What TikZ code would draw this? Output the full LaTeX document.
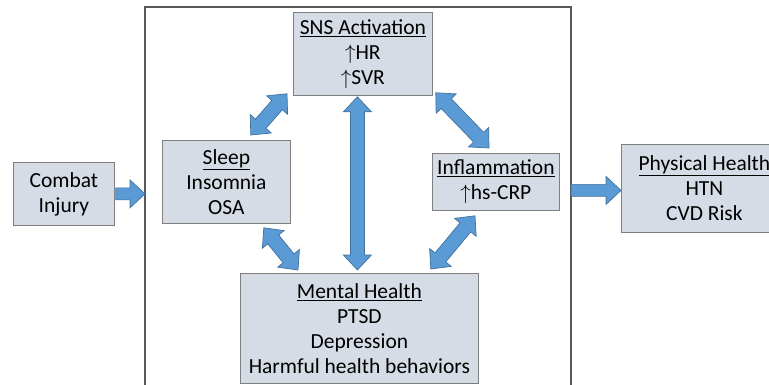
\documentclass[tikz,border=0pt]{standalone}
\usepackage{fontspec}
\setmainfont{Carlito}
\usetikzlibrary{calc}

\definecolor{boxfill}{HTML}{D6DCE5}
\definecolor{boxline}{HTML}{7F7F7F}
\definecolor{arrfill}{HTML}{5B9BD5}
\definecolor{arrline}{HTML}{41719C}
\definecolor{frameline}{HTML}{595959}

% block arrow with two heads, from tip #1 to tip #2
\newcommand{\dblarrow}[2]{%
  \coordinate (p1) at ($(#1)!15pt!(#2)$);
  \coordinate (p2) at ($(#2)!15pt!(#1)$);
  \draw[blockarrow] (#1) -- ($(p1)!14pt!-90:(#2)$) -- ($(p1)!7pt!-90:(#2)$)
    -- ($(p2)!7pt!90:(#1)$) -- ($(p2)!14pt!90:(#1)$) -- (#2)
    -- ($(p2)!14pt!-90:(#1)$) -- ($(p2)!7pt!-90:(#1)$)
    -- ($(p1)!7pt!90:(#2)$) -- ($(p1)!14pt!90:(#2)$) -- cycle;}

% block arrow with one head at #2
\newcommand{\sglarrow}[2]{%
  \coordinate (p2) at ($(#2)!15pt!(#1)$);
  \draw[blockarrow] ($(#1)!6pt!-90:(#2)$) -- ($(p2)!6pt!90:(#1)$)
    -- ($(p2)!14pt!90:(#1)$) -- (#2) -- ($(p2)!14pt!-90:(#1)$)
    -- ($(p2)!6pt!-90:(#1)$) -- ($(#1)!6pt!90:(#2)$) -- cycle;}

\begin{document}
\begin{tikzpicture}[x=1pt, y=-1pt,
    box/.style={draw=boxline, fill=boxfill, line width=0.8pt, anchor=north west,
                align=center, inner sep=0pt, font=\fontsize{21.5}{25}\selectfont},
    blockarrow/.style={draw=arrline, fill=arrfill, line width=0.7pt}]
    \useasboundingbox (0,0) rectangle (769,385);
    \clip (0,0) rectangle (769,385);

    % outer frame, open at the bottom
    \coordinate (fl) at (145,7);
    \coordinate (fr) at (571,7);
    \draw[frameline, line width=1.2pt] (145,400) -- (fl) -- (fr) -- (571,400);

    % the boxes
    \node[box, minimum width=101pt, minimum height=63pt] (combat) at (13,162) {Combat\\Injury};
    \node[box, minimum width=139pt, minimum height=83pt] (sns) at (293,12)
        {\underline{SNS Activation}\\$\uparrow$HR\\$\uparrow$SVR};
    \node[box, minimum width=128pt, minimum height=83pt] (sleep) at (162,140)
        {\underline{Sleep}\\Insomnia\\OSA};
    \node[box, minimum width=127pt, minimum height=57pt] (infl) at (432,153)
        {\underline{Inflammation}\\$\uparrow$hs-CRP};
    \node[box, minimum width=238pt, minimum height=110pt] (mental) at (240,273)
        {\underline{Mental Health}\\PTSD\\Depression\\Harmful health behaviors};
    \node[box, minimum width=166pt, minimum height=88pt] (phys) at (621,144)
        {\underline{Physical Health}\\HTN\\CVD Risk};

    % arrow ends
    \coordinate (a1) at ([shift={(-40,-5)}]sleep.north east);
    \coordinate (a2) at ([shift={(-6,-2)}]sns.south west);
    \coordinate (b1) at ([shift={(3,-3)}]sns.south east);
    \coordinate (b2) at ([shift={(57,-5)}]infl.north west);
    \coordinate (c1) at ([shift={(-5.5,1)}]sns.south);
    \coordinate (c2) at ([shift={(-2,-3)}]mental.north);
    \coordinate (d1) at ([shift={(-27,4)}]sleep.south east);
    \coordinate (d2) at ([shift={(58,-3)}]mental.north west);
    \coordinate (e1) at ([shift={(43,5)}]infl.south west);
    \coordinate (e2) at ([shift={(-48,-4)}]mental.north east);
    \coordinate (f1) at ([shift={(1,0)}]combat.east);
    \coordinate (g2) at ([shift={(0,2)}]phys.west);

    % arrows
    \sglarrow{f1}{f1 -| fl}
    \sglarrow{g2 -| fr}{g2}
    \dblarrow{a1}{a2}
    \dblarrow{b1}{b2}
    \dblarrow{c1}{c2}
    \dblarrow{d1}{d2}
    \dblarrow{e1}{e2}
\end{tikzpicture}
\end{document}
